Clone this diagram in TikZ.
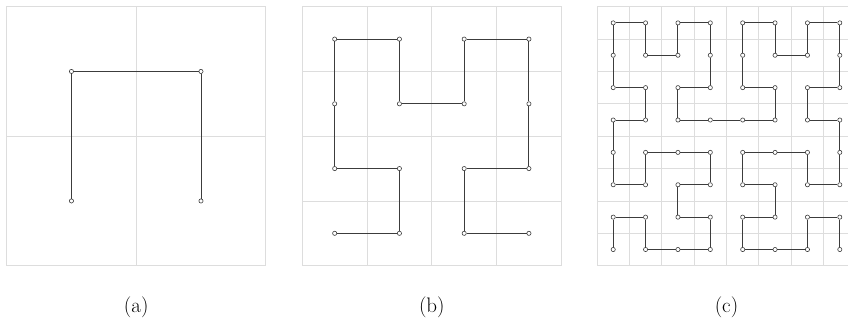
\documentclass[tikz,border=0pt]{standalone}
\usepackage{xcolor}
\definecolor{gridcol}{RGB}{221,221,221}
\definecolor{curvecol}{RGB}{60,60,60}
\tikzset{
  gridline/.style={draw=gridcol, line width=0.9pt},
  curveline/.style={draw=curvecol, line width=0.9pt},
  pt/.style={circle, inner sep=0pt, minimum size=4.2pt, draw=curvecol, line width=0.6pt, fill=white},
  caption/.style={anchor=base, inner sep=0pt, font=\fontsize{21}{25}\selectfont}
}
\newcommand{\panelgrid}[1]{%
  \pgfmathsetmacro{\cs}{259/#1}%
  \foreach \g in {1,...,#1} {%
    \ifnum\g<#1\relax
      \draw[gridline] ({\g*\cs},0) -- ({\g*\cs},259);
      \draw[gridline] (0,{\g*\cs}) -- (259,{\g*\cs});
    \fi
  }%
  \draw[gridline] (0,0) rectangle (259,259);
}
\begin{document}
\begin{tikzpicture}[x=1pt,y=1pt]
\clip (0,0) rectangle (848,322);
\fill[white] (0,0) rectangle (848,322);
% panel a
\begin{scope}[shift={(6.7,56.3)}]
  \panelgrid{2}
  \foreach \x/\y [count=\k] in {0/0,0/1,1/1,1/0}
    \node[pt] (a\k) at ({(\x+0.5)*259/2},{(\y+0.5)*259/2}) {};
  \foreach \i [evaluate=\i as \j using int(\i+1)] in {1,...,3}
    \draw[curveline] (a\i) -- (a\j);
\end{scope}
% panel b
\begin{scope}[shift={(302.3,56.3)}]
  \panelgrid{4}
  \foreach \x/\y [count=\k] in {0/0,1/0,1/1,0/1,0/2,0/3,1/3,1/2,2/2,2/3,3/3,3/2,3/1,2/1,2/0,3/0}
    \node[pt] (b\k) at ({(\x+0.5)*259/4},{(\y+0.5)*259/4}) {};
  \foreach \i [evaluate=\i as \j using int(\i+1)] in {1,...,15}
    \draw[curveline] (b\i) -- (b\j);
\end{scope}
% panel c
\begin{scope}[shift={(597,56.3)}]
  \panelgrid{8}
  \foreach \x/\y [count=\k] in {
    0/0,0/1,1/1,1/0,2/0,3/0,3/1,2/1,2/2,3/2,3/3,2/3,1/3,1/2,0/2,0/3,
    0/4,1/4,1/5,0/5,0/6,0/7,1/7,1/6,2/6,2/7,3/7,3/6,3/5,2/5,2/4,3/4,
    4/4,5/4,5/5,4/5,4/6,4/7,5/7,5/6,6/6,6/7,7/7,7/6,7/5,6/5,6/4,7/4,
    7/3,7/2,6/2,6/3,5/3,4/3,4/2,5/2,5/1,4/1,4/0,5/0,6/0,6/1,7/1,7/0}
    \node[pt] (c\k) at ({(\x+0.5)*259/8},{(\y+0.5)*259/8}) {};
  \foreach \i [evaluate=\i as \j using int(\i+1)] in {1,...,63}
    \draw[curveline] (c\i) -- (c\j);
\end{scope}
% captions
\node[caption] (la) at (136.2,10) {(a)};
\node[caption] (lb) at (431.8,10) {(b)};
\node[caption] (lc) at (726.5,10) {(c)};
\end{tikzpicture}
\end{document}
